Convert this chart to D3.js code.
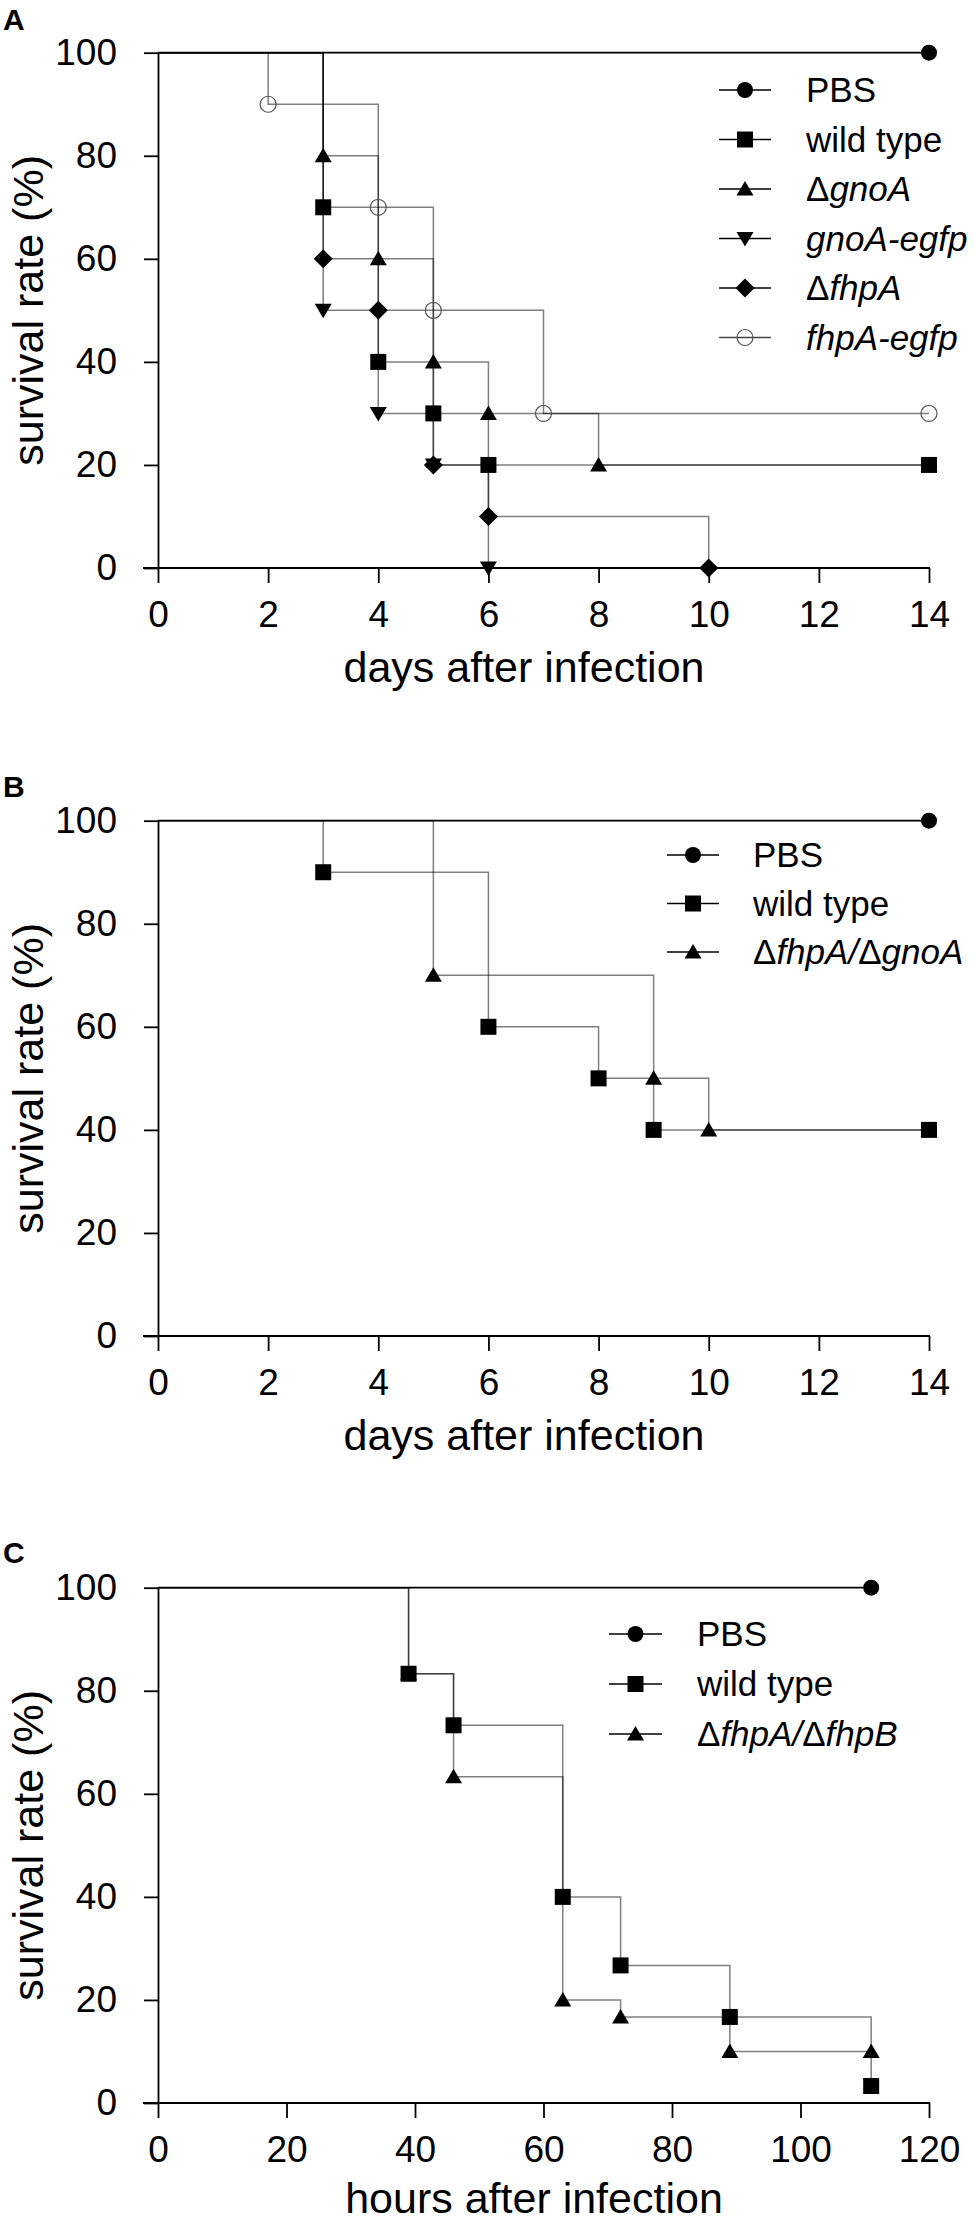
<!DOCTYPE html>
<html>
<head>
<meta charset="utf-8">
<script src="https://cdn.jsdelivr.net/npm/d3@7"></script>
<style>
  body { margin: 0; background: #fff; }
  svg { display: block; font-family: "Liberation Sans", Arial, sans-serif; }
</style>
</head>
<body>
<script>
  // ticks
  const daysTicks = [0, 2, 4, 6, 8, 10, 12, 14]
  const hoursTicks = [0, 20, 40, 60, 80, 100, 120]
  const rateTicks = [0, 20, 40, 60, 80, 100]

  // panel A (days)
  const labelsA = ['PBS', 'wild type', 'Δ<i>gnoA</i>', '<i>gnoA-egfp</i>', 'Δ<i>fhpA</i>', '<i>fhpA-egfp</i>']
  const pbsA_t = [14], pbsA_s = [100]
  const wtA_t = [3, 4, 5, 6, 14], wtA_s = [70, 40, 30, 20, 20]
  const gnoA_t = [3, 4, 5, 6, 8, 14], gnoA_s = [80, 60, 40, 30, 20, 20]
  const gnoAegfp_t = [3, 4, 5, 6], gnoAegfp_s = [50, 30, 20, 0]
  const fhpA_t = [3, 4, 5, 6, 10], fhpA_s = [60, 50, 20, 10, 0]
  const fhpAegfp_t = [2, 4, 5, 7, 14], fhpAegfp_s = [90, 70, 50, 30, 30]

  // panel B (days)
  const labelsB = ['PBS', 'wild type', 'Δ<i>fhpA/</i>Δ<i>gnoA</i>']
  const pbsB_t = [14], pbsB_s = [100]
  const wtB_t = [3, 6, 8, 9, 14], wtB_s = [90, 60, 50, 40, 40]
  const dblB_t = [5, 9, 10, 14], dblB_s = [70, 50, 40, 40]

  // panel C (hours)
  const labelsC = ['PBS', 'wild type', 'Δ<i>fhpA/</i>Δ<i>fhpB</i>']
  const pbsC_t = [111], pbsC_s = [100]
  const wtC_t = [39, 46, 63, 72, 89, 111], wtC_s = [83.3, 73.3, 40, 26.7, 16.7, 3.3]
  const dblC_t = [39, 46, 63, 72, 89, 111], dblC_s = [83.3, 63.3, 20, 16.7, 10, 10]

  const panels = [
    { letter: 'A', letterY: 30, bottom: 568, xDomain: [0, 14], xTicks: daysTicks, xTitle: 'days after infection', titleX: 524, titleDy: 114,
      labels: labelsA,
      series: [[pbsA_t, pbsA_s], [wtA_t, wtA_s], [gnoA_t, gnoA_s], [gnoAegfp_t, gnoAegfp_s], [fhpA_t, fhpA_s], [fhpAegfp_t, fhpAegfp_s]],
      marks: ['circle', 'square', 'up', 'down', 'diamond', 'open'],
      legend: { x0: 719, x1: 771, tx: 806, y0: 90, dy: 49.5 } },
    { letter: 'B', letterY: 797, bottom: 1336, xDomain: [0, 14], xTicks: daysTicks, xTitle: 'days after infection', titleX: 524, titleDy: 114,
      labels: labelsB,
      series: [[pbsB_t, pbsB_s], [wtB_t, wtB_s], [dblB_t, dblB_s]],
      marks: ['circle', 'square', 'up'],
      legend: { x0: 667, x1: 719, tx: 753, y0: 855, dy: 48.5 } },
    { letter: 'C', letterY: 1563, bottom: 2103, xDomain: [0, 120], xTicks: hoursTicks, xTitle: 'hours after infection', titleX: 534, titleDy: 110,
      labels: labelsC,
      series: [[pbsC_t, pbsC_s], [wtC_t, wtC_s], [dblC_t, dblC_s]],
      marks: ['circle', 'square', 'up'],
      legend: { x0: 609, x1: 662, tx: 697, y0: 1634, dy: 50 } }
  ]

  const svg = d3.select('body').append('svg')
    .attr('width', 975).attr('height', 2224)
  svg.append('rect').attr('width', 975).attr('height', 2224).attr('fill', '#fff')

  function markPath(kind) {
    if (kind === 'square') return 'M-8,-8H8V8H-8Z'
    if (kind === 'up') return 'M0,-8L8.5,6.5H-8.5Z'
    if (kind === 'down') return 'M0,8L8.5,-6.5H-8.5Z'
    if (kind === 'diamond') return 'M0,-9.5L9.5,0L0,9.5L-9.5,0Z'
    return 'M8,0A8,8 0 1,1 -8,0A8,8 0 1,1 8,0Z'
  }

  d3.selection.prototype.drawMark = function (kind, cx, cy) {
    const open = kind === 'open'
    return this.append('path')
      .attr('d', markPath(kind))
      .attr('transform', `translate(${cx},${cy})`)
      .attr('fill', open ? 'none' : '#000')
      .attr('stroke', open ? '#555' : 'none')
      .attr('stroke-width', 1.2)
  }

  // label markup: 'Δ<i>gnoA</i>' -> tspans
  d3.selection.prototype.richText = function (str) {
    str.split(/(<i>.*?<\/i>)/).filter(s => s.length).forEach(part => {
      const it = part.startsWith('<i>')
      this.append('tspan')
        .attr('font-style', it ? 'italic' : 'normal')
        .text(it ? part.slice(3, -4) : part)
    })
    return this
  }

  const xRange = [158, 929]

  panels.forEach(p => {
    const x = d3.scaleLinear().domain(p.xDomain).range(xRange)
    const y = d3.scaleLinear().domain([0, 100]).range([p.bottom, p.bottom - 515.3])
    const g = svg.append('g')

    // panel letter
    g.append('text').attr('x', 3).attr('y', p.letterY)
      .attr('font-size', 30).attr('font-weight', 'bold').text(p.letter)

    // axes
    const ax = g.append('g').attr('transform', `translate(0,${p.bottom})`)
      .call(d3.axisBottom(x).tickValues(p.xTicks).tickSize(15).tickSizeOuter(0).tickPadding(18))
    ax.select('.domain').attr('d', `M${xRange[0] - 15},0H${xRange[1] + 1}`)
    g.append('g').attr('transform', `translate(${xRange[0]},0)`)
      .call(d3.axisLeft(y).tickValues(rateTicks).tickSize(14).tickSizeOuter(0).tickPadding(27))
    g.selectAll('.domain, .tick line').attr('stroke', '#000').attr('stroke-width', 1.8)
    g.selectAll('.tick text').attr('font-size', 37).attr('font-family', '"Liberation Sans", Arial, sans-serif')

    // axis titles
    g.append('text').attr('x', p.titleX).attr('y', p.bottom + p.titleDy)
      .attr('text-anchor', 'middle').attr('font-size', 43).text(p.xTitle)
    g.append('text')
      .attr('transform', `translate(43,${(p.bottom + y(100)) / 2}) rotate(-90)`)
      .attr('text-anchor', 'middle').attr('font-size', 43).text('survival rate (%)')

    // survival step lines
    const line = d3.line().x(d => x(d[0])).y(d => y(d[1])).curve(d3.curveStepAfter)
    const pts = p.series.map(([t, s]) => [[0, 100]].concat(t.map((v, i) => [v, s[i]])))
    pts.forEach((pp, i) => {
      g.append('path').attr('d', line(pp))
        .attr('fill', 'none')
        .attr('stroke', '#000')
        .attr('stroke-opacity', i === 0 ? 1 : 0.5)
        .attr('stroke-width', i === 0 ? 1.8 : 1.5)
    })
    // markers, last series first so earlier series sit on top
    for (let i = pts.length - 1; i >= 0; i--) {
      pts[i].slice(1).forEach(d => g.drawMark(p.marks[i], x(d[0]), y(d[1])))
    }

    // legend
    const L = p.legend
    p.labels.forEach((lab, i) => {
      const ly = L.y0 + i * L.dy
      g.append('line').attr('x1', L.x0).attr('x2', L.x1).attr('y1', ly).attr('y2', ly)
        .attr('stroke', i === 5 ? '#444' : '#000').attr('stroke-width', 1.5)
      g.drawMark(p.marks[i], (L.x0 + L.x1) / 2, ly)
      g.append('text').attr('x', L.tx).attr('y', ly + 12)
        .attr('font-size', 35).richText(lab)
    })
  })
</script>
</body>
</html>
